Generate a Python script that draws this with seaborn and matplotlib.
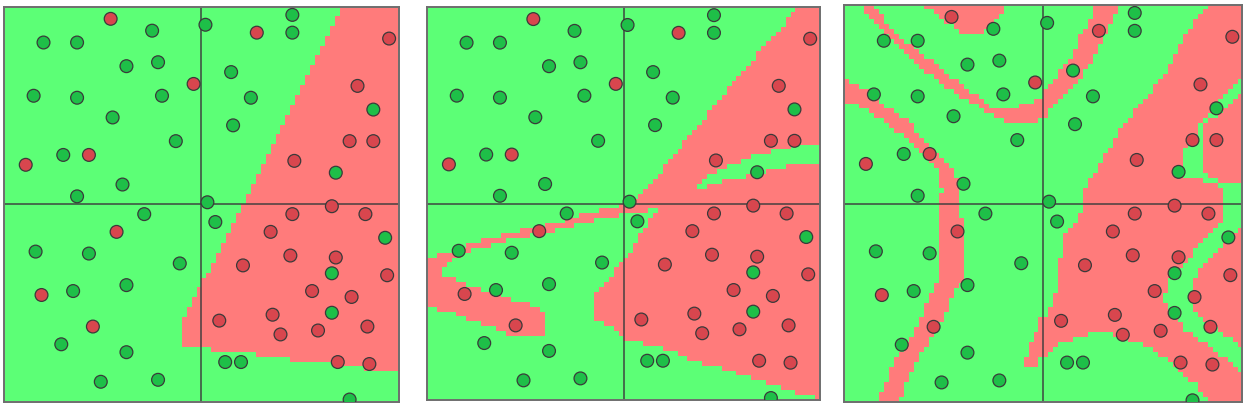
import numpy as np
import pandas as pd
import matplotlib
matplotlib.use("Agg")
import matplotlib.pyplot as plt
import seaborn as sns
from matplotlib.colors import ListedColormap
from matplotlib.path import Path

# sample points, the same in all three panels ("r" / "g" = class)
pt_x = [-0.46, -0.25, -0.80, -0.63, -0.38, -0.22, -0.04, -0.85, -0.63, -0.20,
        -0.45, -0.13, -0.70, -0.57, -0.89, -0.40, -0.63, 0.02, 0.46, 0.28,
        0.46, 0.95, 0.15, 0.79, 0.25, 0.87, 0.16, 0.75, 0.87, 0.47,
        0.68, 0.03, 0.66, -0.29, -0.43, -0.84, -0.57, -0.11, -0.81, -0.65,
        -0.38, -0.55, -0.71, -0.38, -0.51, -0.22, 0.07, 0.46, 0.83, 0.35,
        0.93, 0.45, 0.68, 0.21, 0.66, 0.94, 0.56, 0.76, 0.66, 0.36,
        0.09, 0.40, 0.59, 0.84, 0.12, 0.20, 0.69, 0.85, 0.75]
pt_y = [0.94, 0.88, 0.82, 0.82, 0.70, 0.72, 0.61, 0.55, 0.54, 0.55,
        0.44, 0.32, 0.25, 0.25, 0.20, 0.10, 0.04, 0.91, 0.96, 0.87,
        0.87, 0.84, 0.67, 0.60, 0.54, 0.48, 0.40, 0.32, 0.32, 0.22,
        0.16, 0.01, -0.01, -0.05, -0.14, -0.24, -0.25, -0.30, -0.46, -0.44,
        -0.41, -0.62, -0.71, -0.75, -0.90, -0.89, -0.09, -0.05, -0.05, -0.14,
        -0.17, -0.26, -0.27, -0.31, -0.35, -0.36, -0.44, -0.47, -0.55, -0.56,
        -0.59, -0.66, -0.64, -0.62, -0.80, -0.80, -0.80, -0.81, -0.99]
pt_cls = ["r", "g", "g", "g", "g", "g", "r", "g", "g", "g",
          "g", "g", "g", "r", "r", "g", "g", "g", "g", "r",
          "g", "r", "g", "r", "g", "g", "g", "r", "r", "r",
          "g", "g", "r", "g", "r", "g", "g", "g", "r", "g",
          "g", "r", "g", "g", "g", "g", "g", "r", "r", "r",
          "g", "r", "r", "r", "g", "r", "r", "r", "g", "r",
          "r", "r", "r", "r", "g", "g", "r", "r", "g"]

# decision regions, painted in order over a green background
regions_1 = [
    ("r", [(0.74, 1.05), (1.05, 1.05), (1.05, -0.87), (0.83, -0.84), (0.66, -0.81),
           (0.46, -0.79), (0.26, -0.76), (0.08, -0.74), (-0.09, -0.73), (-0.09, -0.59)]),
]

regions_2 = [
    ("r", [(0.93, 1.05), (1.05, 1.05), (1.05, -1.02), (0.95, -0.98), (0.83, -0.95),
           (0.69, -0.90), (0.54, -0.85), (0.37, -0.80), (0.20, -0.74), (0.08, -0.71),
           (-0.02, -0.68), (-0.06, -0.63), (-0.14, -0.60), (-0.14, -0.45), (-0.07, -0.39),
           (-0.02, -0.30), (0.03, -0.25), (0.18, -0.02), (0.13, -0.04), (0.00, -0.06),
           (-0.05, -0.07), (-0.21, -0.10), (-0.32, -0.13), (-0.41, -0.15), (-0.51, -0.17),
           (-0.61, -0.19), (-0.69, -0.22), (-0.79, -0.24), (-0.85, -0.28), (-0.89, -0.30),
           (-0.92, -0.34), (-0.92, -0.37), (-0.85, -0.39), (-0.77, -0.43), (-0.64, -0.45),
           (-0.56, -0.49), (-0.49, -0.51), (-0.44, -0.53), (-0.39, -0.58), (-0.39, -0.65),
           (-0.43, -0.68), (-0.59, -0.68), (-0.62, -0.65), (-0.74, -0.61), (-0.82, -0.58),
           (-0.89, -0.55), (-0.97, -0.53), (-1.05, -0.53), (-1.05, -0.29), (-0.93, -0.26),
           (-0.88, -0.24), (-0.79, -0.21), (-0.69, -0.18), (-0.61, -0.16), (-0.51, -0.13),
           (-0.41, -0.12), (-0.32, -0.09), (-0.21, -0.06), (-0.11, -0.03), (0.00, -0.01),
           (0.03, 0.02), (0.10, 0.05), (0.21, 0.19), (0.35, 0.36), (0.49, 0.53),
           (0.63, 0.70), (0.78, 0.87)]),
    ("g", [(0.35, 0.06), (0.42, 0.14), (0.54, 0.19), (0.66, 0.24), (0.83, 0.28),
           (0.93, 0.31), (1.05, 0.31), (1.05, 0.21), (0.90, 0.21), (0.76, 0.17),
           (0.63, 0.14), (0.49, 0.11), (0.40, 0.08)]),
]

regions_3 = [
    ("r", [(-0.64, 1.05), (-0.64, 1.0), (-0.58, 0.98), (-0.52, 0.93), (-0.45, 0.89),
           (-0.41, 0.85), (-0.32, 0.85), (-0.27, 0.88), (-0.23, 0.93), (-0.19, 0.98),
           (-0.19, 1.05)]),
    ("r", [(-0.93, 1.05), (-0.92, 1.0), (-0.81, 0.86), (-0.62, 0.69), (-0.53, 0.61),
           (-0.40, 0.52), (-0.30, 0.47), (-0.23, 0.42), (-0.13, 0.40), (-0.05, 0.40),
           (0.00, 0.42), (0.03, 0.46), (0.08, 0.51), (0.13, 0.56), (0.18, 0.62),
           (0.23, 0.69), (0.27, 0.76), (0.30, 0.81), (0.32, 0.86), (0.35, 0.94),
           (0.39, 1.0), (0.40, 1.05), (0.26, 1.05), (0.26, 0.96), (0.23, 0.91),
           (0.18, 0.83), (0.16, 0.78), (0.13, 0.71), (0.08, 0.66), (0.03, 0.59),
           (-0.01, 0.54), (-0.05, 0.50), (-0.10, 0.49), (-0.22, 0.47), (-0.27, 0.49),
           (-0.34, 0.54), (-0.43, 0.61), (-0.53, 0.69), (-0.75, 0.86), (-0.86, 1.0),
           (-0.86, 1.05)]),
    ("r", [(-1.05, 0.64), (-0.92, 0.59), (-0.86, 0.54), (-0.77, 0.47), (-0.68, 0.41),
           (-0.60, 0.32), (-0.52, 0.24), (-0.45, 0.16), (-0.42, 0.09), (-0.42, 0.01),
           (-0.39, -0.37), (-0.45, -0.43), (-0.48, -0.53), (-0.53, -0.62), (-0.58, -0.70),
           (-0.63, -0.79), (-0.68, -0.87), (-0.71, -0.95), (-0.72, -1.05), (-0.84, -1.05),
           (-0.82, -0.97), (-0.79, -0.90), (-0.76, -0.82), (-0.72, -0.75), (-0.67, -0.69),
           (-0.63, -0.62), (-0.60, -0.53), (-0.57, -0.47), (-0.53, -0.38), (-0.52, -0.37),
           (-0.52, -0.16), (-0.53, -0.15), (-0.53, -0.03), (-0.52, 0.02), (-0.51, 0.06),
           (-0.52, 0.14), (-0.57, 0.21), (-0.65, 0.29), (-0.74, 0.36), (-0.82, 0.42),
           (-0.92, 0.49), (-1.05, 0.52)]),
    ("r", [(0.83, 1.05), (1.05, 1.05), (1.05, -1.05), (0.85, -1.05), (0.80, -0.95),
           (0.74, -0.89), (0.65, -0.82), (0.57, -0.75), (0.47, -0.70), (0.35, -0.66),
           (0.23, -0.66), (0.10, -0.70), (0.03, -0.75), (-0.02, -0.79), (-0.05, -0.83),
           (-0.09, -0.83), (-0.09, -0.79), (-0.07, -0.70), (-0.03, -0.65), (-0.02, -0.58),
           (0.02, -0.57), (0.06, -0.48), (0.08, -0.33), (0.10, -0.17), (0.17, -0.08),
           (0.20, -0.01), (0.21, 0.06), (0.23, 0.11), (0.28, 0.19), (0.34, 0.29),
           (0.40, 0.39), (0.49, 0.50), (0.52, 0.54), (0.59, 0.62), (0.65, 0.73),
           (0.70, 0.83), (0.76, 0.91), (0.83, 1.0)]),
    ("g", [(1.05, 0.65), (1.0, 0.65), (0.95, 0.59), (0.89, 0.52), (0.84, 0.46),
           (0.79, 0.41), (0.78, 0.34), (0.72, 0.29), (0.70, 0.24), (0.69, 0.19),
           (0.70, 0.14), (0.79, 0.12), (0.87, 0.09), (0.90, 0.05), (0.90, -0.08),
           (0.82, -0.18), (0.75, -0.25), (0.69, -0.32), (0.64, -0.38), (0.60, -0.47),
           (0.62, -0.52), (0.67, -0.58), (0.72, -0.65), (0.80, -0.70), (0.87, -0.75),
           (0.94, -0.80), (0.99, -0.85), (1.05, -0.86), (1.05, -0.74), (1.0, -0.74),
           (0.92, -0.67), (0.85, -0.62), (0.79, -0.57), (0.74, -0.52), (0.74, -0.45),
           (0.75, -0.38), (0.80, -0.32), (0.87, -0.25), (0.94, -0.18), (1.0, -0.11),
           (1.05, -0.11), (1.05, 0.10), (0.92, 0.10), (0.85, 0.12), (0.80, 0.17),
           (0.80, 0.32), (0.81, 0.39), (0.87, 0.44), (0.92, 0.49), (1.0, 0.56),
           (1.05, 0.56)]),
]

BG_GREEN = "#5CFF76"
BG_RED = "#FF7B7B"
PT_GREEN = "#1EBF48"
PT_RED = "#D8464E"

df = pd.DataFrame({"x": pt_x, "y": pt_y, "cls": pt_cls})

n = 80
c = (np.arange(n) + 0.5) / n * 2 - 1
gx, gy = np.meshgrid(c, c)
cells = np.column_stack([gx.ravel(), gy.ravel()])

fig = plt.figure(figsize=(12.48, 4.08), dpi=100)
# left, top, width, height in pixels
boxes = [(4, 7, 395, 394.5), (427.3, 7.3, 392.7, 392.7), (844, 5, 398.3, 397.3)]

for (l, t, w, h), regions in zip(boxes, [regions_1, regions_2, regions_3]):
    ax = fig.add_axes([l / 1248, 1 - (t + h) / 408, w / 1248, h / 408])
    grid = np.zeros(n * n)
    for cls, poly in regions:
        inside = Path(poly).contains_points(cells)
        grid[inside] = 1 if cls == "r" else 0
    ax.imshow(grid.reshape(n, n), extent=(-1, 1, -1, 1), origin="lower",
              cmap=ListedColormap([BG_GREEN, BG_RED]), vmin=0, vmax=1,
              interpolation="nearest", aspect="auto", zorder=0)
    ax.axhline(0, color="#3c3c3c", lw=1.3, alpha=0.8, zorder=1)
    ax.axvline(0, color="#3c3c3c", lw=1.3, alpha=0.8, zorder=1)
    sns.scatterplot(data=df, x="x", y="y", hue="cls",
                    palette={"r": PT_RED, "g": PT_GREEN},
                    s=85, edgecolor="#3a3a3a", linewidth=0.9,
                    legend=False, ax=ax, zorder=3)
    ax.set_xlim(-1, 1)
    ax.set_ylim(-1, 1)
    ax.set_xticks([])
    ax.set_yticks([])
    ax.set_xlabel("")
    ax.set_ylabel("")
    for s in ax.spines.values():
        s.set_color("#6e6e6e")
        s.set_linewidth(1.4)

fig.savefig("out.png", dpi=100, facecolor="white")
